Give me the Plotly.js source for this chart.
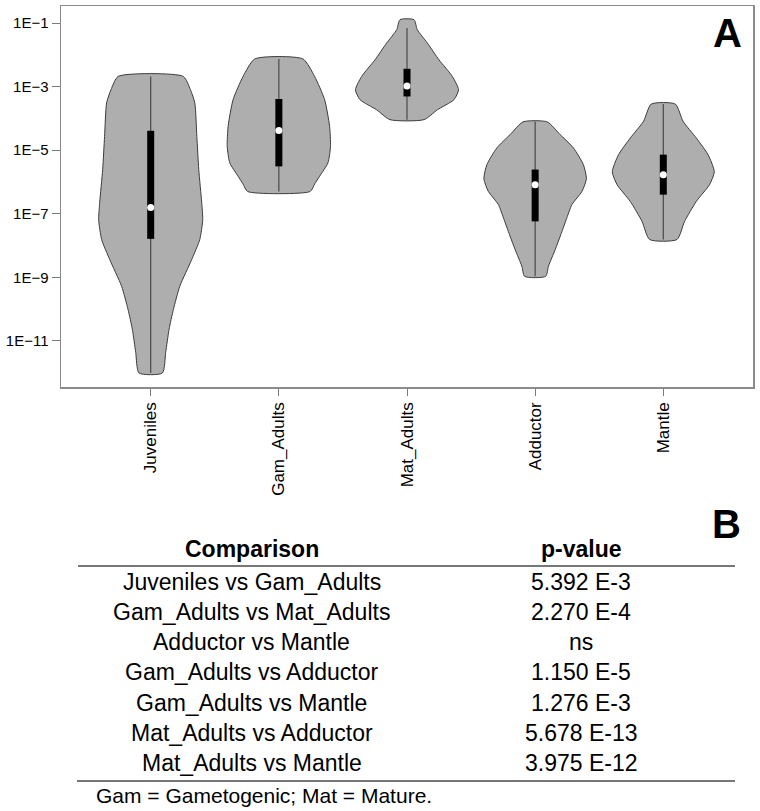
<!DOCTYPE html>
<html>
<head>
<meta charset="utf-8">
<script src="https://cdn.plot.ly/plotly-3.0.1.min.js"></script>
<style>html,body{margin:0;padding:0;background:#fff;}#chart{width:760px;height:811px;}</style>
</head>
<body>
<div id="chart"></div>
<script>
// ---------- data (log10 of the y values) ----------
const categories = ['Juveniles', 'Gam_Adults', 'Mat_Adults', 'Adductor', 'Mantle'];

// violin outlines: log10(y) levels (top to bottom) and half-widths (category units)
const juvLog = [-2.68, -3.10, -3.51, -4.57, -5.61, -6.65, -7.19, -7.81, -8.44, -9.28, -10.01, -10.64, -11.36, -12.01];
const juvW   = [0.254, 0.31, 0.344, 0.36, 0.375, 0.398, 0.406, 0.383, 0.32, 0.227, 0.177, 0.143, 0.117, 0.091];
const gamLog = [-2.13, -2.68, -3.41, -4.25, -4.88, -5.40, -5.82, -6.06, -6.30];
const gamW   = [0.1875, 0.279, 0.357, 0.396, 0.403, 0.383, 0.318, 0.28, 0.244];
const matLog = [-0.896, -1.21, -1.63, -2.16, -2.68, -3.10, -3.41, -3.73, -4.04];
const matW   = [0.055, 0.08, 0.159, 0.25, 0.354, 0.402, 0.367, 0.237, 0.133];
const addLog = [-4.11, -4.51, -4.93, -5.46, -5.90, -6.30, -6.71, -7.19, -7.66, -8.13, -8.65, -8.97];
const addW   = [0.094, 0.195, 0.299, 0.377, 0.40, 0.365, 0.287, 0.242, 0.20, 0.156, 0.104, 0.082];
const manLog = [-3.55, -4.09, -4.62, -5.14, -5.68, -6.09, -6.61, -7.24, -7.81];
const manW   = [0.094, 0.154, 0.258, 0.349, 0.398, 0.36, 0.258, 0.166, 0.107];

// box statistics (log10)
const q1Log      = [-7.79, -5.51, -3.31, -7.24, -6.40];
const q3Log      = [-4.39, -3.39, -2.44, -5.61, -5.14];
const medianLog  = [-6.80, -4.38, -2.98, -6.09, -5.77];
const whiskLoLog = [-12.01, -6.30, -4.04, -8.97, -7.81];
const whiskHiLog = [-2.68, -2.13, -1.16, -4.11, -3.55];

// y tick labels
const yTickExp  = [-1, -3, -5, -7, -9, -11];
const yTickText = ['1E\u22121', '1E\u22123', '1E\u22125', '1E\u22127', '1E\u22129', '1E\u221211'];

// table B
const tableHeader = ['Comparison', 'p-value'];
const comparisons = ['Juveniles vs Gam_Adults', 'Gam_Adults vs Mat_Adults', 'Adductor vs Mantle',
                     'Gam_Adults vs Adductor', 'Gam_Adults vs Mantle', 'Mat_Adults vs Adductor', 'Mat_Adults vs Mantle'];
const pValues = ['5.392 E-3', '2.270 E-4', 'ns', '1.150 E-5', '1.276 E-3', '5.678 E-13', '3.975 E-12'];
const footnote = 'Gam = Gametogenic; Mat = Mature.';

// ---------- build ----------
const outlines = [[juvLog, juvW], [gamLog, gamW], [matLog, matW], [addLog, addW], [manLog, manW]];
const p10 = v => Math.pow(10, v);
const traces = [];

outlines.forEach(([L, W], i) => {
  const n = L.length;
  const xs = [], ys = [];
  for (let k = 0; k < n; k++) { xs.push(i + W[k]); ys.push(p10(L[k])); }
  for (let k = n - 1; k >= 0; k--) { xs.push(i - W[k]); ys.push(p10(L[k])); }
  xs.push(xs[0]); ys.push(ys[0]);
  traces.push({
    type: 'scatter', mode: 'lines', x: xs, y: ys,
    fill: 'toself', fillcolor: '#aeaeae',
    line: { color: '#3c3c3c', width: 1, shape: 'spline', smoothing: 0.6 },
    hoverinfo: 'skip', showlegend: false
  });
});

categories.forEach((c, i) => {
  traces.push({
    type: 'scatter', mode: 'lines', x: [i, i], y: [p10(whiskLoLog[i]), p10(whiskHiLog[i])],
    line: { color: '#4a4a4a', width: 1.2 }, hoverinfo: 'skip', showlegend: false
  });
  traces.push({
    type: 'scatter', mode: 'lines', x: [i, i], y: [p10(q1Log[i]), p10(q3Log[i])],
    line: { color: '#000000', width: 7 }, hoverinfo: 'skip', showlegend: false
  });
});
traces.push({
  type: 'scatter', mode: 'markers', x: categories.map((c, i) => i), y: medianLog.map(p10),
  marker: { color: '#ffffff', size: 7, line: { width: 0 } }, hoverinfo: 'skip', showlegend: false
});

const W = 760, H = 811;
const px = x => x / W, py = y => 1 - y / H;
const font = 'Liberation Sans, Arial, Helvetica, sans-serif';

const annotations = [
  { text: '<b>A</b>', x: px(727), y: py(33), xref: 'paper', yref: 'paper', showarrow: false,
    xanchor: 'center', yanchor: 'middle', font: { family: font, size: 40, color: '#000' } },
  { text: '<b>B</b>', x: px(726), y: py(524), xref: 'paper', yref: 'paper', showarrow: false,
    xanchor: 'center', yanchor: 'middle', font: { family: font, size: 40, color: '#000' } },
  { text: '<b>' + tableHeader[0] + '</b>', x: px(252), y: py(549), xref: 'paper', yref: 'paper', showarrow: false,
    xanchor: 'center', yanchor: 'middle', font: { family: font, size: 23, color: '#000' } },
  { text: '<b>' + tableHeader[1] + '</b>', x: px(581), y: py(549), xref: 'paper', yref: 'paper', showarrow: false,
    xanchor: 'center', yanchor: 'middle', font: { family: font, size: 23, color: '#000' } },
  { text: footnote, x: px(94), y: py(795), xref: 'paper', yref: 'paper', showarrow: false,
    xanchor: 'left', yanchor: 'middle', font: { family: font, size: 21, color: '#000' } }
];
comparisons.forEach((c, k) => {
  const yc = 581.5 + k * 30.3;
  annotations.push({ text: c, x: px(252), y: py(yc), xref: 'paper', yref: 'paper', showarrow: false,
    xanchor: 'center', yanchor: 'middle', font: { family: font, size: 23, color: '#000' } });
  annotations.push({ text: pValues[k], x: px(581), y: py(yc), xref: 'paper', yref: 'paper', showarrow: false,
    xanchor: 'center', yanchor: 'middle', font: { family: font, size: 23, color: '#000' } });
});

const shapes = [
  { type: 'line', xref: 'paper', yref: 'paper', x0: px(78), x1: px(735), y0: py(566), y1: py(566),
    line: { color: '#4a4a4a', width: 1.5 } },
  { type: 'line', xref: 'paper', yref: 'paper', x0: px(77), x1: px(735), y0: py(781), y1: py(781),
    line: { color: '#4a4a4a', width: 1.5 } }
];

const layout = {
  width: W, height: H,
  margin: { l: 0, r: 0, t: 0, b: 0 },
  paper_bgcolor: '#ffffff', plot_bgcolor: '#ffffff',
  showlegend: false,
  xaxis: {
    domain: [px(61), px(753)], range: [-0.7, 4.7],
    tickmode: 'array', tickvals: categories.map((c, i) => i), ticktext: categories,
    tickangle: -90, ticks: 'outside', ticklen: 7, tickwidth: 1, tickcolor: '#7a7a7a',
    showline: true, mirror: true, linecolor: '#8a8a8a', linewidth: 1.5,
    showgrid: false, zeroline: false,
    tickfont: { family: font, size: 17, color: '#000' }
  },
  yaxis: {
    type: 'log', domain: [py(387), py(6)], range: [-12.45, -0.465],
    tickmode: 'array', tickvals: yTickExp.map(p10), ticktext: yTickText,
    ticks: 'outside', ticklen: 8, tickwidth: 1, tickcolor: '#7a7a7a',
    showline: true, mirror: true, linecolor: '#8a8a8a', linewidth: 1.5,
    showgrid: false, zeroline: false,
    tickfont: { family: font, size: 15, color: '#000' }
  },
  annotations: annotations,
  shapes: shapes
};

Plotly.newPlot('chart', traces, layout, { displayModeBar: false, staticPlot: true });
</script>
</body>
</html>
